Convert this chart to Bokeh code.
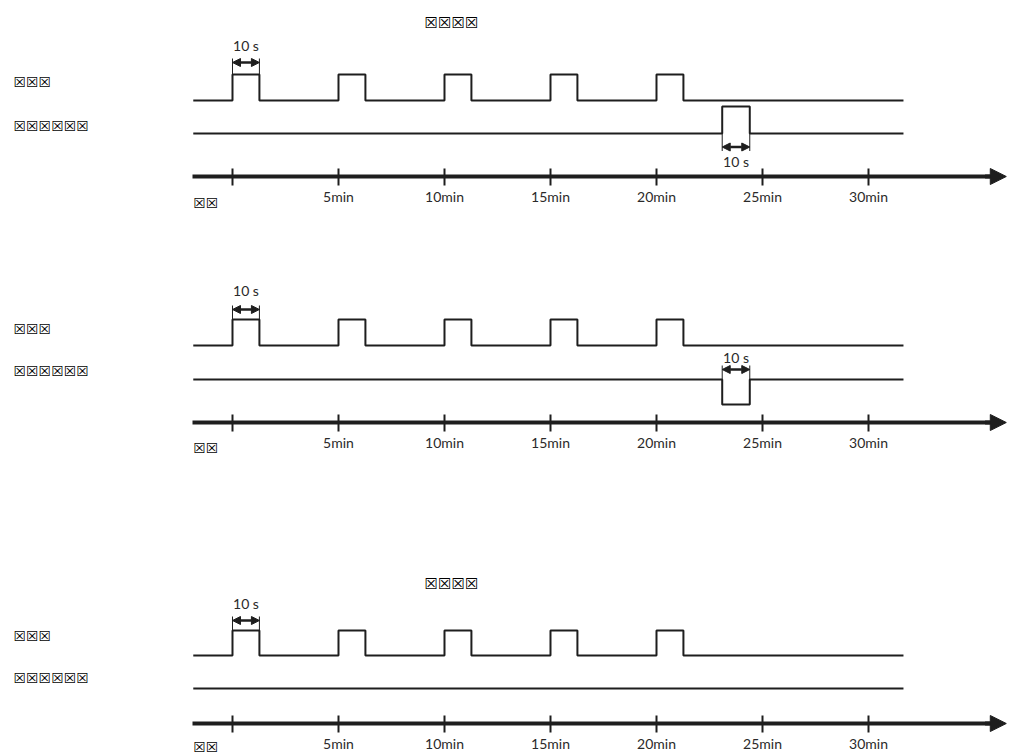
from bokeh.plotting import figure
from bokeh.models import Range1d, FixedTicker, Arrow, NormalHead
from bokeh.layouts import column
from bokeh.embed import file_html
from bokeh.resources import INLINE
from bokeh.core.properties import value

# ---------------- data ----------------
tick_values = [0, 5, 10, 15, 20, 25, 30]
tick_labels = ["", "5min", "10min", "15min", "20min", "25min", "30min"]
pulse_starts = [0, 5, 10, 15, 20]            # minutes
pulse_ends = [1.27, 6.27, 11.27, 16.27, 21.27]
ctrl_pulse_start = 23.1
ctrl_pulse_end = 24.4
ctrl_pulse_dir = [1, -1, 0]                   # up / down / none per panel
trace_start, trace_end = -1.85, 31.65
axis_tip = 36.5
pulse_text = "10 s"
row_labels = ["☒☒☒", "☒☒☒☒☒☒"]
start_label = "☒☒"
titles = ["☒☒☒☒", "", "☒☒☒☒"]

# ---------------- layout ----------------
W = 1008
X0, X1 = -10.943, 36.604
label_x = -10.33
title_x = 10.33
INK = "#1e1e1e"
FONT = "Lato"
BOX_FONT = "DejaVu Sans"

# top / axis / bottom in canvas pixels; other values are offsets above the axis line
panels = [
    dict(top=0, axis=176, bottom=220, r1=(76, 102), r2=43, c_amp=27, a1=114, t1=131,
         a2=29.5, t2=15, l1=95, l2=51, title_y=154, sl_y=-26),
    dict(top=220, axis=422, bottom=466, r1=(77, 103), r2=43, c_amp=25, a1=113, t1=132,
         a2=53, t2=65, l1=94, l2=52, title_y=None, sl_y=-25),
    dict(top=466, axis=723, bottom=754, r1=(68, 93), r2=35, c_amp=0, a1=103, t1=120,
         a2=None, t2=None, l1=88, l2=46, title_y=140, sl_y=-23),
]


def step(low, high, starts, ends):
    xs, ys = [trace_start], [low]
    for s, e in zip(starts, ends):
        xs += [s, s, e, e]
        ys += [low, high, high, low]
    xs.append(trace_end)
    ys.append(low)
    return xs, ys


def head(size):
    return NormalHead(size=size, fill_color=INK, line_color=INK, line_width=1)


figs = []
for i, L in enumerate(panels):
    h = L["bottom"] - L["top"]
    p = figure(width=W, height=h, x_range=Range1d(X0, X1),
               y_range=Range1d(L["axis"] - L["bottom"], L["axis"] - L["top"]),
               output_backend="svg", toolbar_location=None, y_axis_location=None,
               min_border_left=0, min_border_right=0, min_border_top=0,
               min_border_bottom=0)
    p.outline_line_color = None
    p.grid.visible = False
    p.background_fill_color = "white"
    p.border_fill_color = "white"

    # time axis, drawn at y = 0 inside the frame
    ax = p.xaxis[0]
    ax.fixed_location = 0
    ax.ticker = FixedTicker(ticks=tick_values)
    ax.major_label_overrides = {v: t for v, t in zip(tick_values, tick_labels)}
    ax.bounds = (trace_start - 0.05, axis_tip - 0.6)
    ax.axis_line_width = 4
    ax.axis_line_color = INK
    ax.major_tick_line_width = 2
    ax.major_tick_line_color = INK
    ax.major_tick_in = 8
    ax.major_tick_out = 9
    ax.minor_tick_line_color = None
    ax.major_label_text_font = FONT
    ax.major_label_text_font_size = "14px"
    ax.major_label_text_color = "#2a2a2a"
    ax.major_label_standoff = 2
    p.add_layout(Arrow(x_start=axis_tip - 1.0, y_start=0, x_end=axis_tip, y_end=0,
                       line_width=4, line_color=INK, end=head(16)))

    # stimulus trace
    lo, hi = L["r1"]
    xs, ys = step(lo, hi, pulse_starts, pulse_ends)
    p.line(xs, ys, line_width=2, line_color=INK)

    # second trace
    lo2 = L["r2"]
    d = ctrl_pulse_dir[i]
    if d != 0:
        xs2, ys2 = step(lo2, lo2 + d * L["c_amp"], [ctrl_pulse_start], [ctrl_pulse_end])
    else:
        xs2, ys2 = [trace_start, trace_end], [lo2, lo2]
    p.line(xs2, ys2, line_width=2, line_color=INK)

    # dimension arrow on first pulse
    a1 = L["a1"]
    p.segment(x0=[pulse_starts[0], pulse_ends[0]], y0=[hi, hi],
              x1=[pulse_starts[0], pulse_ends[0]], y1=[a1 + 4, a1 + 4],
              line_width=1, line_color=INK)
    p.add_layout(Arrow(x_start=pulse_starts[0], y_start=a1, x_end=pulse_ends[0], y_end=a1,
                       line_width=2.5, line_color=INK, start=head(8), end=head(8)))
    p.text(x=[(pulse_starts[0] + pulse_ends[0]) / 2], y=[L["t1"]], text=[pulse_text],
           text_font=value(FONT), text_font_size="14px", text_color="#2a2a2a",
           text_align="center", text_baseline="middle")

    # dimension arrow on second-trace pulse
    if L["a2"] is not None:
        a2 = L["a2"]
        y_end = a2 - 4 if d > 0 else a2 + 4
        p.segment(x0=[ctrl_pulse_start, ctrl_pulse_end], y0=[lo2, lo2],
                  x1=[ctrl_pulse_start, ctrl_pulse_end], y1=[y_end, y_end],
                  line_width=1, line_color=INK)
        p.add_layout(Arrow(x_start=ctrl_pulse_start, y_start=a2, x_end=ctrl_pulse_end, y_end=a2,
                           line_width=2.5, line_color=INK, start=head(8), end=head(8)))
        p.text(x=[(ctrl_pulse_start + ctrl_pulse_end) / 2], y=[L["t2"]], text=[pulse_text],
               text_font=value(FONT), text_font_size="14px", text_color="#2a2a2a",
               text_align="center", text_baseline="middle")

    # row labels
    p.text(x=[label_x, label_x], y=[L["l1"], L["l2"]], text=row_labels,
           text_font=value(BOX_FONT), text_font_size="14px", text_color="#000000",
           text_font_style="bold", text_align="left", text_baseline="middle")

    # title
    if L["title_y"] is not None and titles[i]:
        p.text(x=[title_x], y=[L["title_y"]], text=[titles[i]],
               text_font=value(BOX_FONT), text_font_size="15px", text_color="#000000",
               text_font_style="bold", text_align="center", text_baseline="middle")

    # start label under the axis
    p.text(x=[trace_start], y=[L["sl_y"]], text=[start_label],
           text_font=value(BOX_FONT), text_font_size="14px", text_color="#000000",
           text_font_style="bold", text_align="left", text_baseline="middle")
    figs.append(p)

layout = column(*figs, spacing=0)
open("out.html", "w").write(file_html(layout, INLINE))
